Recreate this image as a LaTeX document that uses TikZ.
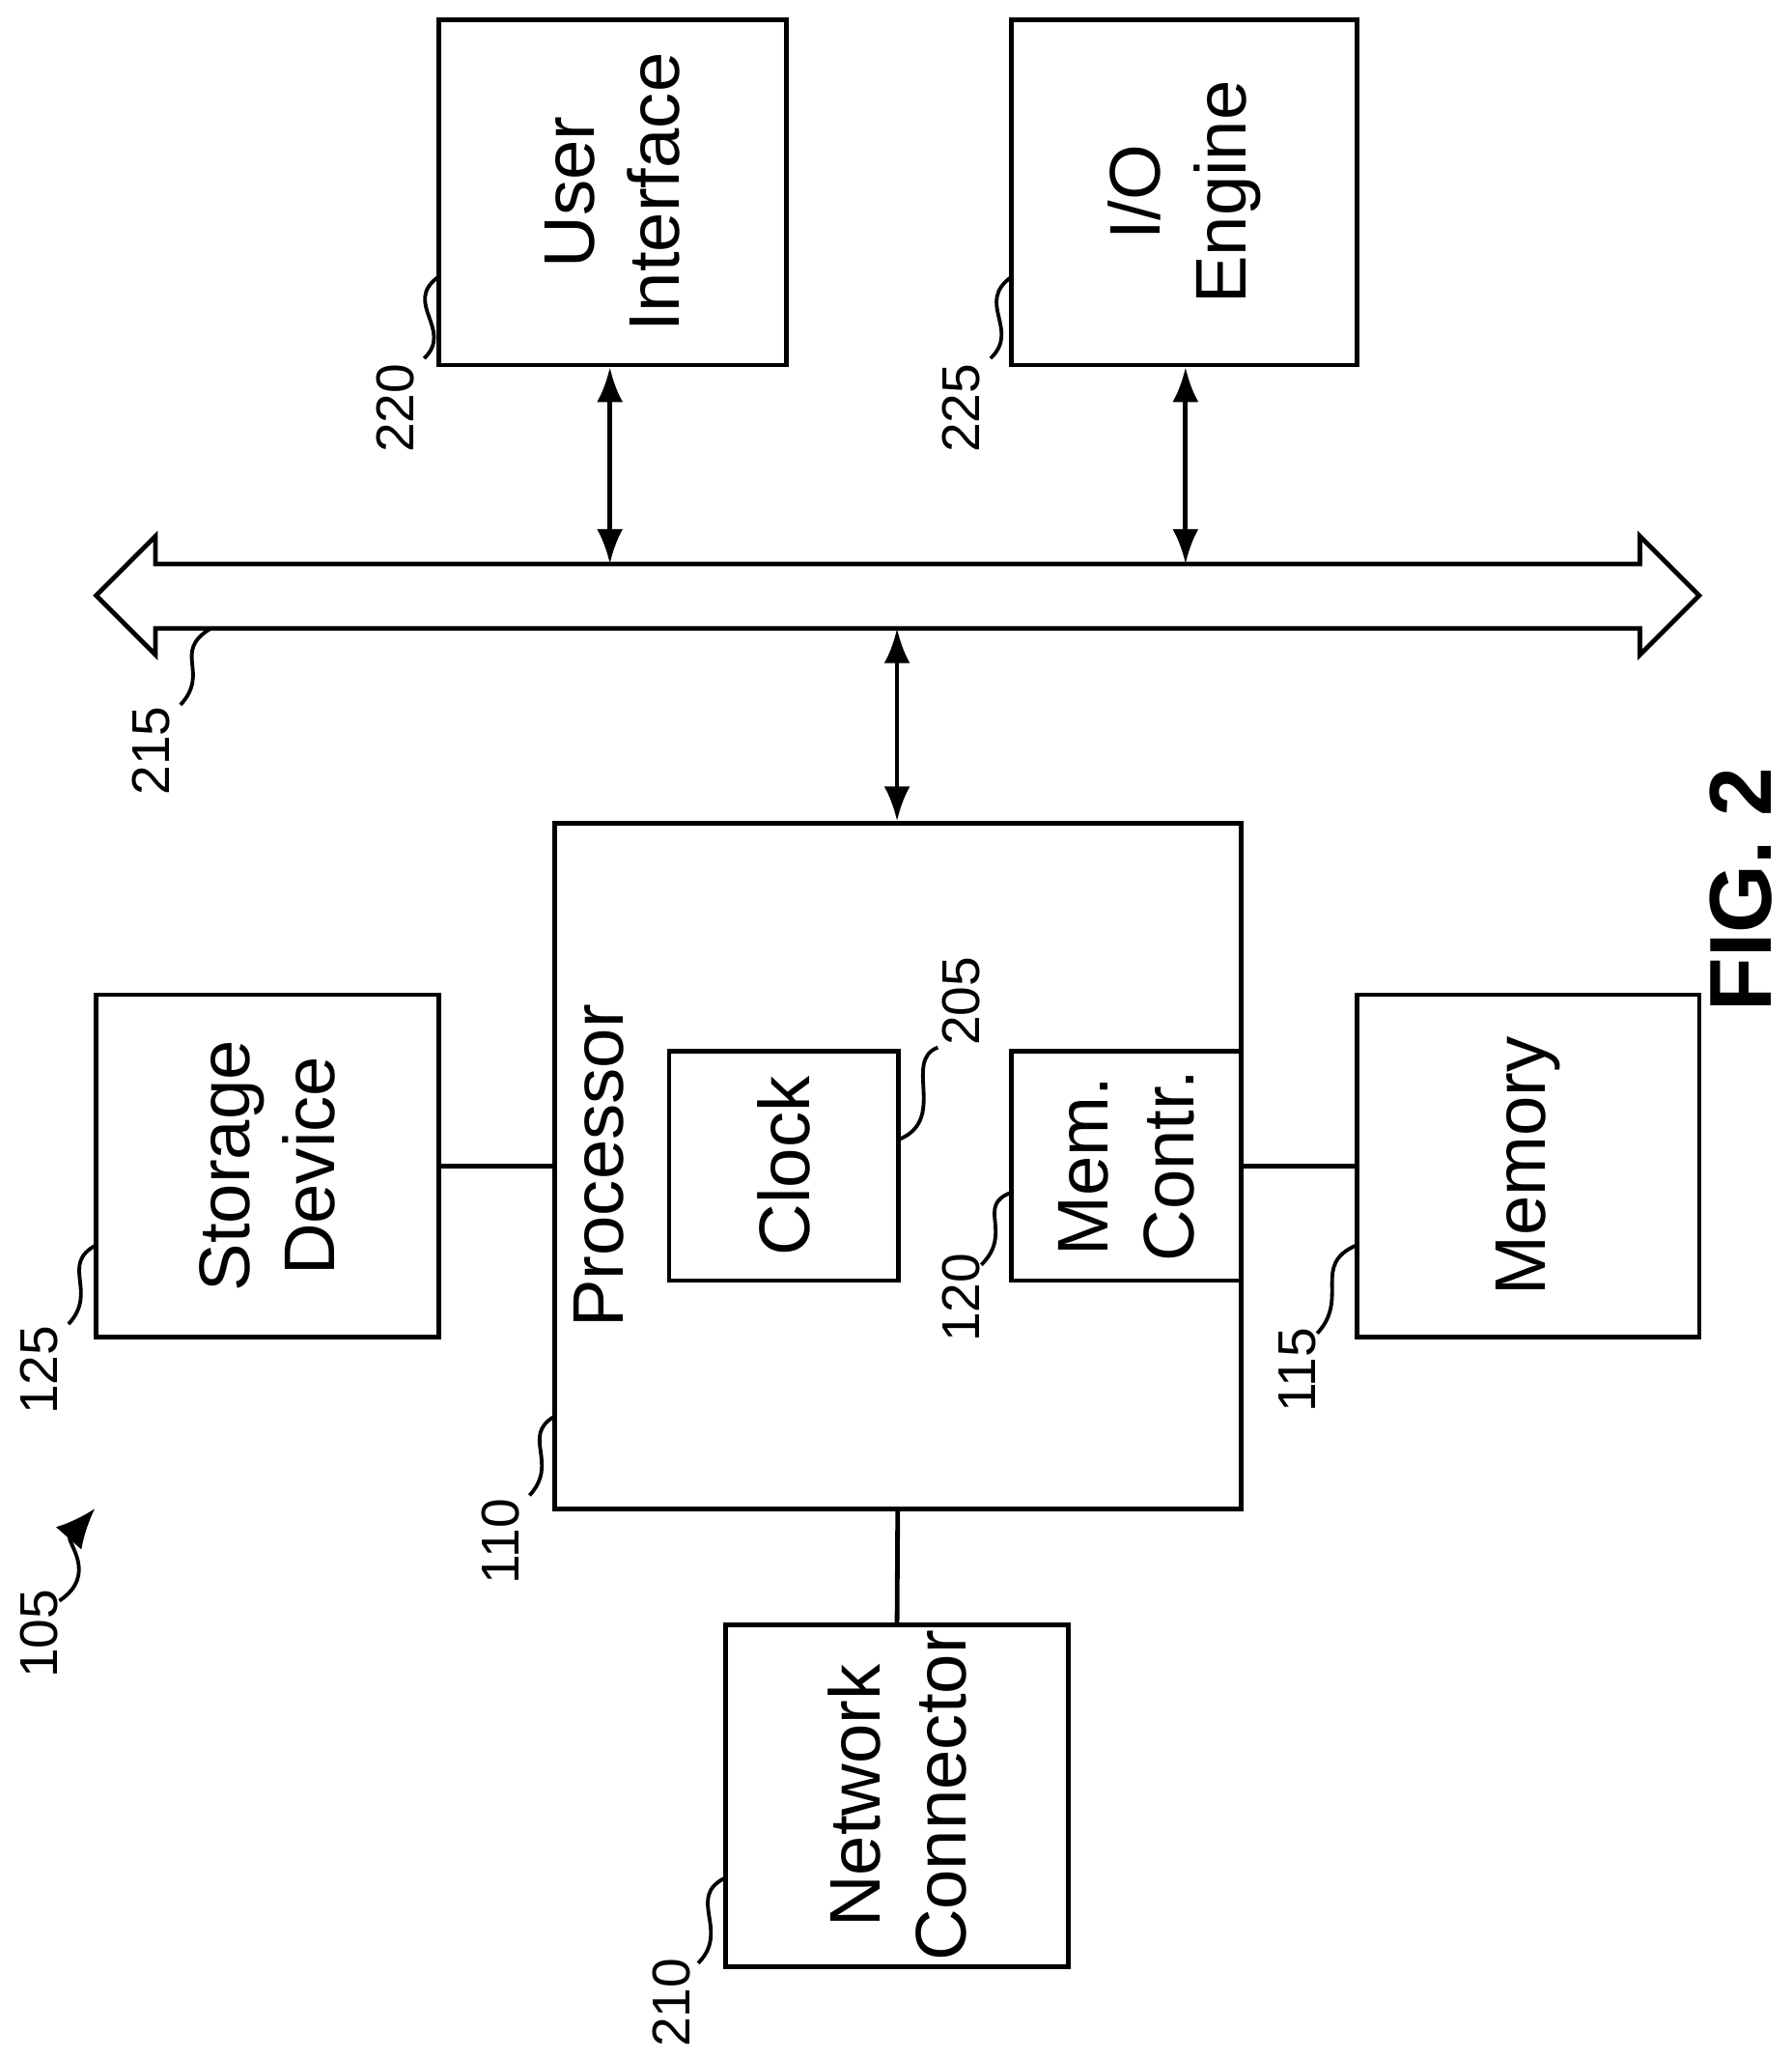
\documentclass[tikz,border=0pt]{standalone}
\usepackage{fontspec}
\setmainfont{Liberation Sans}
\usetikzlibrary{arrows.meta}
\tikzset{
  box/.style={draw, line width=1pt, minimum width=2.6cm, minimum height=2.6cm, inner sep=0pt},
  small/.style={box, minimum width=1.74cm, minimum height=1.74cm},
  txt/.style={rotate=90, align=center, font=\fontsize{15.5}{18.5}\selectfont},
  num/.style={rotate=90, font=\fontsize{11.5}{13}\selectfont},
  lead/.style={line width=0.8pt},
  link/.style={line width=1pt},
  biarrow/.style={Latex-Latex, line width=1pt}
}
\begin{document}
\begin{tikzpicture}
  \useasboundingbox (0,0) rectangle (13.6,-15.62);
  % blocks
  \node[box, minimum width=2.64cm, minimum height=2.62cm] (ui) at (4.65,-1.46) {};
  \node[txt] at (ui) {User\\Interface};
  \node[box, minimum width=2.62cm, minimum height=2.62cm] (io) at (8.99,-1.46) {};
  \node[txt] at (io) {I/O\\Engine};
  \node[box, minimum width=5.21cm, minimum height=5.2cm] (proc) at (6.815,-8.85) {};
  \node[txt] at (4.55,-8.85) {Processor};
  \node[small] (clock) at (5.95,-8.85) {};
  \node[txt] at (clock) {Clock};
  \node[small] (memc) at (8.55,-8.85) {};
  \node[txt] at (memc) {Mem.\\Contr.};
  \node[box] (stor) at (2.03,-8.85) {};
  \node[txt] at (stor) {Storage\\Device};
  \node[box] (mem) at (11.6,-8.85) {};
  \node[txt] at (mem) {Memory};
  \node[box] (net) at (6.81,-13.63) {};
  \node[txt] at (net) {Network\\Connector};
  % bus
  \draw[link, fill=white] (0.73,-4.52) -- (1.18,-4.07) -- (1.18,-4.28) -- (12.45,-4.28)
    -- (12.45,-4.07) -- (12.9,-4.52) -- (12.45,-4.97) -- (12.45,-4.77)
    -- (1.18,-4.77) -- (1.18,-4.97) -- cycle;
  \coordinate (bus1) at (4.63,-4.28);
  \coordinate (bus2) at (9.0,-4.28);
  \coordinate (bus3) at (6.81,-4.77);
  % connectors
  \draw[biarrow] (ui.south -| bus1) -- (bus1);
  \draw[biarrow] (io.south -| bus2) -- (bus2);
  \draw[biarrow] (bus3) -- (proc.north -| bus3);
  \draw[link] (stor.east) -- (proc.west |- stor.east);
  \draw[link] (proc.east |- mem.west) -- (mem.west);
  \draw[link] (proc.south) -- (net.north);
  % reference numerals
  \node[num] at (3.0,-3.1) {220};
  \draw[lead] (3.22,-2.72) .. controls (3.45,-2.5) and (3.05,-2.3) .. (3.33,-2.1);
  \node[num] at (7.3,-3.1) {225};
  \draw[lead] (7.52,-2.72) .. controls (7.75,-2.5) and (7.4,-2.3) .. (7.68,-2.1);
  \node[num] at (1.15,-5.7) {215};
  \draw[lead] (1.37,-5.35) .. controls (1.6,-5.1) and (1.3,-4.95) .. (1.6,-4.77);
  \node[num] at (0.3,-10.4) {125};
  \draw[lead] (0.52,-10.05) .. controls (0.75,-9.8) and (0.45,-9.6) .. (0.73,-9.45);
  \node[num] at (3.8,-11.7) {110};
  \draw[lead] (4.02,-11.35) .. controls (4.25,-11.1) and (3.95,-10.9) .. (4.21,-10.75);
  \node[num] at (7.3,-9.85) {120};
  \draw[lead] (7.45,-9.6) .. controls (7.7,-9.35) and (7.4,-9.15) .. (7.68,-9.05);
  \node[num] at (9.85,-10.4) {115};
  \draw[lead] (10.0,-10.12) .. controls (10.25,-9.85) and (9.95,-9.6) .. (10.3,-9.45);
  \node[num] at (7.3,-7.6) {205};
  \draw[lead] (6.82,-8.65) .. controls (7.2,-8.5) and (6.85,-8.05) .. (7.12,-7.95);
  \node[num] at (5.1,-15.2) {210};
  \draw[lead] (5.3,-14.9) .. controls (5.55,-14.65) and (5.2,-14.4) .. (5.51,-14.25);
  \node[num] at (0.3,-12.4) {105};
  \coordinate (sys) at (0.72,-11.45);
  \draw[lead, -{Latex[length=3mm, width=2.6mm]}] (0.45,-12.15) .. controls (0.75,-11.95) and (0.5,-11.7) .. (sys);
  % figure label
  \node[rotate=90, font=\bfseries\fontsize{19}{22}\selectfont] (fig) at (13.22,-6.75) {FIG. 2};
\end{tikzpicture}
\end{document}
